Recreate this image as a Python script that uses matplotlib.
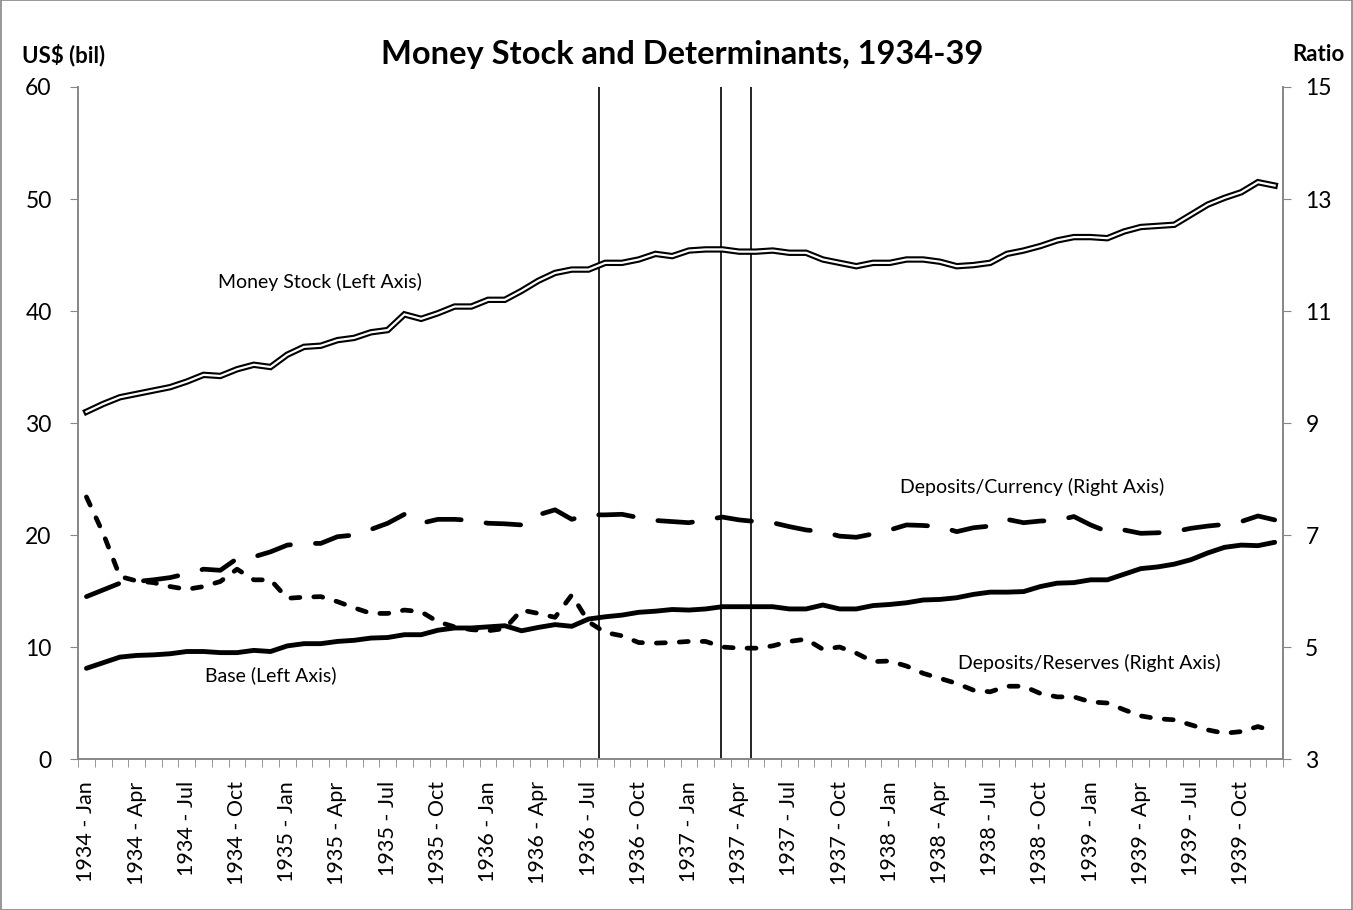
import numpy as np
import matplotlib
matplotlib.use("Agg")
import matplotlib.pyplot as plt
from matplotlib.patches import Rectangle

plt.rcParams['font.family'] = ['Lato', 'DejaVu Sans']
plt.rcParams['lines.scale_dashes'] = False

# monthly data, 1934 Jan .. 1939 Dec
years = [1934, 1935, 1936, 1937, 1938, 1939]
months = ["Jan", "Feb", "Mar", "Apr", "May", "Jun",
          "Jul", "Aug", "Sep", "Oct", "Nov", "Dec"]

# money stock, US$ bil (left axis)
money_stock = [31.0, 31.7, 32.3, 32.6, 32.9, 33.2, 33.7, 34.3, 34.2, 34.8, 35.2, 35.0,
               36.1, 36.8, 36.9, 37.4, 37.6, 38.1, 38.3, 39.7, 39.3, 39.8, 40.4, 40.4,
               41.0, 41.0, 41.8, 42.7, 43.4, 43.7, 43.7, 44.3, 44.3, 44.6, 45.1, 44.9,
               45.4, 45.5, 45.5, 45.3, 45.3, 45.4, 45.2, 45.2, 44.6, 44.3, 44.0, 44.3,
               44.3, 44.6, 44.6, 44.4, 44.0, 44.1, 44.3, 45.1, 45.4, 45.8, 46.3, 46.6,
               46.6, 46.5, 47.1, 47.5, 47.6, 47.7, 48.6, 49.5, 50.1, 50.6, 51.5, 51.2]

# monetary base, US$ bil (left axis)
base = [8.1, 8.6, 9.1, 9.25, 9.3, 9.4, 9.6, 9.6, 9.5, 9.5, 9.7, 9.6,
        10.1, 10.3, 10.3, 10.5, 10.6, 10.8, 10.85, 11.1, 11.1, 11.5, 11.7, 11.7,
        11.8, 11.9, 11.45, 11.75, 12.0, 11.85, 12.5, 12.7, 12.85, 13.1, 13.2, 13.35,
        13.3, 13.4, 13.6, 13.6, 13.6, 13.6, 13.4, 13.4, 13.75, 13.4, 13.4, 13.7,
        13.8, 13.95, 14.2, 14.25, 14.4, 14.7, 14.9, 14.9, 14.95, 15.4, 15.7, 15.75,
        16.0, 16.0, 16.5, 17.0, 17.15, 17.4, 17.8, 18.4, 18.9, 19.1, 19.05, 19.35]

# deposits/currency ratio (right axis)
dep_cur = [5.90, 6.02, 6.14, 6.17, 6.20, 6.24, 6.31, 6.39, 6.37, 6.58, 6.61, 6.70,
           6.82, 6.85, 6.85, 6.97, 7.00, 7.10, 7.21, 7.37, 7.21, 7.28, 7.28, 7.26,
           7.21, 7.20, 7.18, 7.36, 7.45, 7.28, 7.36, 7.36, 7.37, 7.31, 7.26, 7.24,
           7.22, 7.27, 7.32, 7.27, 7.24, 7.22, 7.15, 7.09, 7.06, 6.98, 6.96, 7.02,
           7.09, 7.18, 7.17, 7.15, 7.06, 7.13, 7.16, 7.28, 7.22, 7.25, 7.26, 7.33,
           7.18, 7.06, 7.09, 7.03, 7.04, 7.06, 7.12, 7.16, 7.19, 7.24, 7.34, 7.27]

# deposits/reserves ratio (right axis)
dep_res = [7.68, 7.03, 6.26, 6.18, 6.15, 6.08, 6.03, 6.08, 6.17, 6.39, 6.20, 6.20,
           5.87, 5.89, 5.90, 5.81, 5.70, 5.60, 5.60, 5.66, 5.63, 5.45, 5.36, 5.31,
           5.29, 5.33, 5.66, 5.60, 5.53, 5.93, 5.45, 5.26, 5.20, 5.08, 5.07, 5.08,
           5.10, 5.10, 5.00, 4.98, 4.98, 5.02, 5.10, 5.14, 4.96, 5.00, 4.89, 4.74,
           4.75, 4.66, 4.53, 4.44, 4.35, 4.23, 4.20, 4.30, 4.30, 4.17, 4.11, 4.11,
           4.02, 4.00, 3.88, 3.77, 3.72, 3.70, 3.61, 3.52, 3.46, 3.49, 3.58, 3.49]

# reserve requirement increases (position on the month axis)
event_pos = [30.6, 37.9, 39.7]

labels = ["%d - %s" % (y, m) for y in years for m in months]
x = np.arange(len(labels))

fig = plt.figure(figsize=(13.53, 9.10), dpi=100)
ax = fig.add_axes([0.0577, 0.1659, 0.8906, 0.7385])
ax2 = ax.twinx()

axis_grey = "#868686"

# left axis series
ax.plot(x, money_stock, color="black", lw=4.6, solid_joinstyle="miter", zorder=3)
ax.plot(x, money_stock, color="white", lw=1.6, solid_joinstyle="miter", zorder=4)
ax.plot(x, base, color="black", lw=3.5, solid_capstyle="round", zorder=3)
for p in event_pos:
    ax.axvline(p, color="black", lw=1.2, zorder=2)

# right axis series
ax2.plot(x, dep_cur, color="black", lw=3.4, dashes=(25, 18), dash_capstyle="round")
ax2.plot(x, dep_res, color="black", lw=3.4, dashes=(6.5, 10), dash_capstyle="round")

ax.set_xlim(-0.5, len(x) - 0.5)
ax.set_ylim(0, 60)
ax2.set_ylim(3, 15)
ax.set_yticks(range(0, 61, 10))
ax2.set_yticks(range(3, 16, 2))

ax.set_xticks(x[::3])
ax.set_xticklabels(labels[::3], rotation=90, fontsize=15.5)
ax.set_xticks(np.arange(-0.5, len(x)), minor=True)
ax.tick_params(axis="x", which="major", length=0, pad=16)
ax.tick_params(axis="x", which="minor", length=6, color=axis_grey)
ax.tick_params(axis="y", labelsize=16.5, color=axis_grey, length=6, pad=13)
ax2.tick_params(axis="y", labelsize=16.5, color=axis_grey, length=6, pad=10)

for a in (ax, ax2):
    a.spines["top"].set_visible(False)
    for s in ("left", "right", "bottom"):
        a.spines[s].set_color(axis_grey)
        a.spines[s].set_linewidth(1.2)

# series labels
ax.text(13.95, 42.6, "Money Stock (Left Axis)", fontsize=14, ha="center", va="center")
ax.text(11.0, 7.5, "Base (Left Axis)", fontsize=14, ha="center", va="center")
ax2.text(56.5, 7.86, "Deposits/Currency (Right Axis)", fontsize=14, ha="center", va="center")
ax2.text(59.95, 4.71, "Deposits/Reserves (Right Axis)", fontsize=14, ha="center", va="center")

fig.text(0.5045, 0.94, "Money Stock and Determinants, 1934-39", fontsize=23.5,
         fontweight="bold", ha="center", va="center")
fig.text(0.016, 0.94, "US$ (bil)", fontsize=16, fontweight="bold", ha="left", va="center")
fig.text(0.994, 0.94, "Ratio", fontsize=16, fontweight="bold", ha="right", va="center")

fig.patches.append(Rectangle((0.0005, 0.0005), 0.999, 0.999, transform=fig.transFigure,
                             fill=False, edgecolor=axis_grey, lw=1.2))

fig.savefig("out.png", dpi=100)
